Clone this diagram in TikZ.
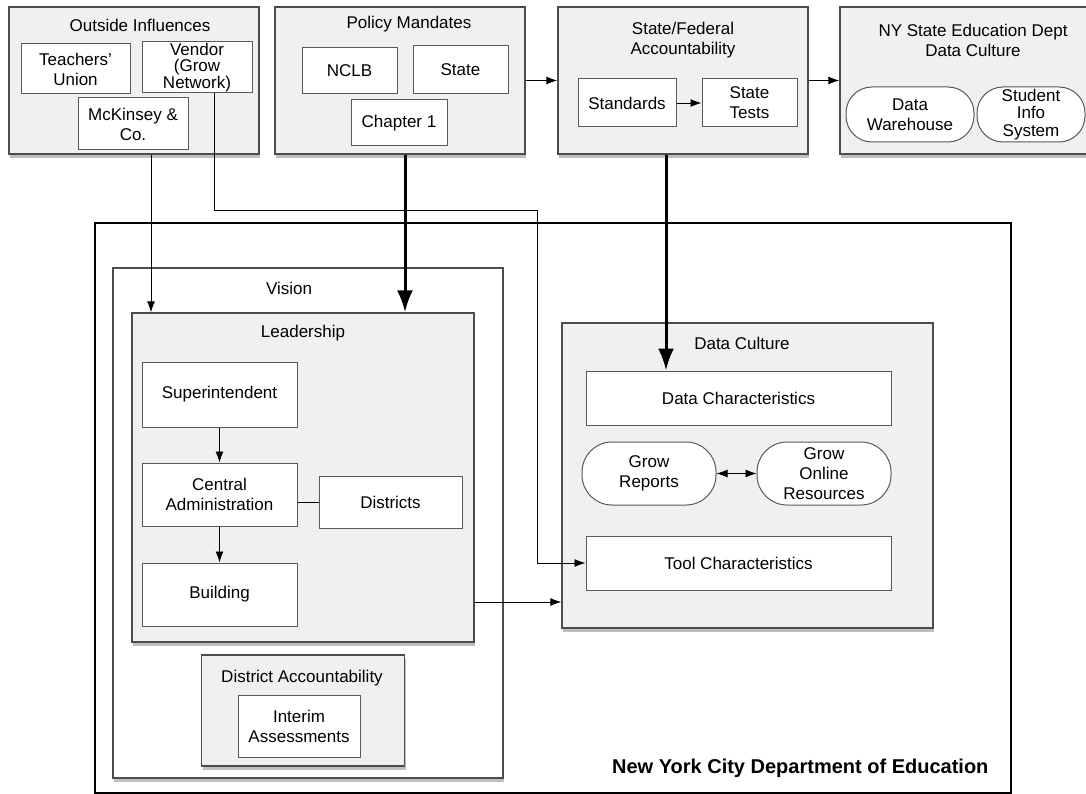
\documentclass[tikz,border=0pt]{standalone}
\usepackage{fontspec}
\setmainfont{Liberation Sans}
\usetikzlibrary{arrows.meta,shadows}

\tikzset{
  panel/.style={draw=black!70, line width=1.3pt, fill=black!6,
    drop shadow={shadow xshift=1pt, shadow yshift=-4pt, opacity=0.5}},
  item/.style={draw=black!65, line width=1pt, fill=white, align=center, inner sep=0pt},
  pill/.style={item, rounded corners=26pt},
  title/.style={align=center, inner sep=0pt},
  arr/.style={-{Latex[length=11pt,width=8pt]}, line width=0.9pt},
  bigarr/.style={-{Latex[length=22pt,width=16pt]}, line width=3pt},
}

\begin{document}
\begin{tikzpicture}[x=1pt, y=-1pt, font=\fontsize{17}{20}\selectfont]
    \useasboundingbox (0,0) rectangle (1086,794);

    % 1. Khung ngoai cung
    \node[draw=black, line width=2pt, minimum width=916pt, minimum height=570pt] (nyc) at (553,508) {};
    \node[anchor=east, font=\fontsize{20}{24}\selectfont\bfseries] (nyc-t) at (992,768) {New York City Department of Education};

    % 2. Hang tren
    \node[panel, minimum width=250pt, minimum height=147pt] (outside) at (134,80.5) {};
    \node[title] (outside-t) at (140,25) {Outside Influences};
    \node[item, minimum width=109pt, minimum height=50pt] (union) at (75.5,69) {Teachers'\\Union};
    \node[item, minimum width=110pt, minimum height=51pt, font=\fontsize{17}{16.7}\selectfont] (vendor) at (197,67.5) {Vendor\\(Grow\\Network)};
    \node[item, minimum width=110pt, minimum height=52pt] (mck) at (133,124) {McKinsey \&\\Co.};

    \node[panel, minimum width=250pt, minimum height=147pt] (policy) at (400,80.5) {};
    \node[title] (policy-t) at (409,24) {Policy Mandates};
    \node[item, minimum width=95pt, minimum height=46pt] (nclb) at (349.5,71) {NCLB};
    \node[item, minimum width=95pt, minimum height=48pt] (state) at (460.5,70) {State};
    \node[item, minimum width=96pt, minimum height=46pt] (chap) at (399,123) {Chapter 1};

    \node[panel, minimum width=250pt, minimum height=147pt] (sfa) at (683,80.5) {};
    \node[title] (sfa-t) at (683,40) {State/Federal\\Accountability};
    \node[item, minimum width=98pt, minimum height=48pt] (stand) at (627,103) {Standards};
    \node[item, minimum width=95pt, minimum height=48pt] (tests) at (749.5,103) {State\\Tests};

    \node[panel, minimum width=260pt, minimum height=147pt] (nysed) at (970,80.5) {};
    \node[title] (nysed-t) at (973,40) {NY State Education Dept\\Data Culture};
    \node[pill, minimum width=128pt, minimum height=55pt] (dw) at (910,114.5) {Data\\Warehouse};
    \node[pill, minimum width=108pt, minimum height=55pt, font=\fontsize{17}{17.5}\selectfont] (sis) at (1031,114.5) {Student\\Info\\System};

    % 3. Vision va Leadership
    \node[panel, fill=white, minimum width=390pt, minimum height=510pt] (vision) at (308,523) {};
    \node[title] (vision-t) at (289,288) {Vision};
    \node[panel, minimum width=342pt, minimum height=329pt] (lead) at (303,477.5) {};
    \node[title] (lead-t) at (303,333) {Leadership};
    \node[item, minimum width=155pt, minimum height=65pt] (super) at (219.5,394.5) {Superintendent};
    \node[item, minimum width=155pt, minimum height=63pt] (central) at (219.5,494.5) {Central\\Administration};
    \node[item, minimum width=143pt, minimum height=52pt] (dist) at (390.5,502) {Districts};
    \node[item, minimum width=155pt, minimum height=63pt] (build) at (219.5,594.5) {Building};

    \node[panel, minimum width=203pt, minimum height=111pt] (dacc) at (303,710.5) {};
    \node[title] (dacc-t) at (302,678) {District Accountability};
    \node[item, minimum width=122pt, minimum height=62pt] (interim) at (299,726) {Interim\\Assessments};

    % 4. Data Culture
    \node[panel, minimum width=371pt, minimum height=305pt] (dc) at (747.5,475.5) {};
    \node[title] (dc-t) at (742,343) {Data Culture};
    \node[item, minimum width=305pt, minimum height=54pt] (datachar) at (738.5,398) {Data Characteristics};
    \node[pill, rounded corners=30pt, minimum width=134pt, minimum height=63pt] (reports) at (649,473.5) {Grow\\Reports};
    \node[pill, rounded corners=30pt, minimum width=134pt, minimum height=63pt] (online) at (824,473.5) {Grow\\Online\\Resources};
    \node[item, minimum width=305pt, minimum height=54pt] (tool) at (738.5,563) {Tool Characteristics};

    % 5. Cac duong noi
    \coordinate (mckx) at (151,0);
    \coordinate (vendx) at (214,0);
    \coordinate (bend) at (537,210);
    \coordinate (chapx) at (405,0);
    \coordinate (sfax) at (666,0);
    \coordinate (ldy) at (0,602);

    \draw[arr] (policy.east) -- (sfa.west);
    \draw[arr] (sfa.east) -- (nysed.west);
    \draw[arr] (stand) -- (tests);
    \draw[arr] (outside.south -| mckx) -- (lead.north -| mckx);
    \draw[arr] (vendor.south -| vendx) |- (bend) |- (tool.west);
    \draw[bigarr] (policy.south -| chapx) -- (lead.north -| chapx);
    \draw[bigarr] (sfa.south -| sfax) -- (datachar.north -| sfax);
    \draw[arr] (super) -- (central);
    \draw[arr] (central) -- (build);
    \draw[line width=0.9pt] (dist.west -| central.east) -- (dist.west);
    \draw[{Latex[length=11pt,width=8pt]}-{Latex[length=11pt,width=8pt]}, line width=0.9pt] (reports) -- (online);
    \draw[arr] (lead.east |- ldy) -- (dc.west |- ldy);
\end{tikzpicture}
\end{document}
